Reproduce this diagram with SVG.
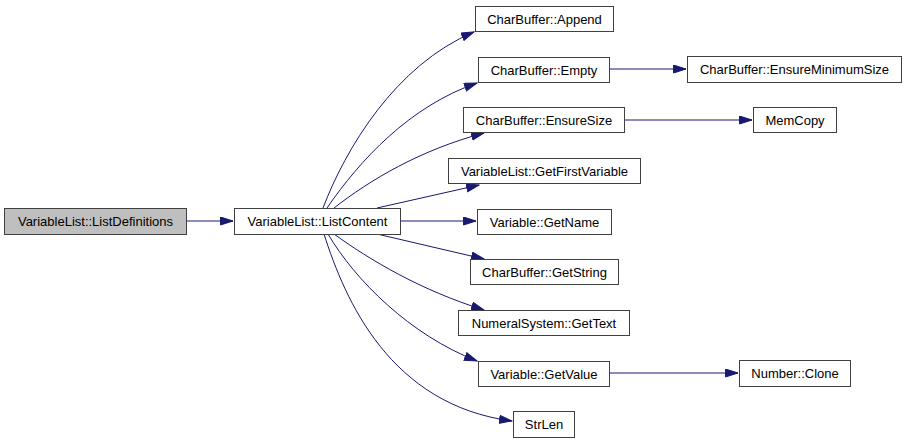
<svg xmlns="http://www.w3.org/2000/svg" width="907" height="443" viewBox="0 0 907 443">
<style>
.n rect{fill:#fff;stroke:#404040;stroke-width:1}
.n text{font-family:"Liberation Sans",Arial,sans-serif;font-size:13px;fill:#000;text-anchor:middle}
.e path{fill:none;stroke:#191970;stroke-width:1;marker-end:url(#a)}
</style>
<defs>
<marker id="a" markerUnits="userSpaceOnUse" markerWidth="14" markerHeight="10" refX="13" refY="4.5" orient="auto">
<path d="M0.5,0.5 L13,4.5 L0.5,8.5 z" fill="#191970" stroke="#191970" stroke-width="1"/>
</marker>
</defs>
<rect width="907" height="443" fill="#fff"/>
<g id="edges" class="e">
<path d="M186,221 L233,221"/>
<path d="M323,208 C345,150 395,65 474,32"/>
<path d="M327,208 C360,160 410,106 477,83"/>
<path d="M334,208 C370,180 420,150 484,133"/>
<path d="M377,208 L479,185"/>
<path d="M400,221 L476,221"/>
<path d="M377,234 L484,259"/>
<path d="M334,234 C370,260 420,290 484,310"/>
<path d="M328,234 C355,280 410,335 477,361"/>
<path d="M324,234 C345,300 390,405 512,421"/>
<path d="M609,69 L686,69"/>
<path d="M624,120 L752,120"/>
<path d="M609,373 L738,373"/>
</g>
<g id="n_listdefinitions" class="n"><rect x="4.5" y="208.5" width="182" height="26" style="fill:#bfbfbf"/><text x="95.5" y="226">VariableList::ListDefinitions</text></g>
<g id="n_listcontent" class="n"><rect x="234.5" y="208.5" width="166" height="26"/><text x="317.5" y="226">VariableList::ListContent</text></g>
<g id="n_append" class="n"><rect x="475.5" y="6.5" width="138" height="25"/><text x="544.5" y="23.5">CharBuffer::Append</text></g>
<g id="n_empty" class="n"><rect x="478.5" y="57.5" width="131" height="25"/><text x="544" y="74.5">CharBuffer::Empty</text></g>
<g id="n_ensuresize" class="n"><rect x="463.5" y="107.5" width="161" height="25"/><text x="544" y="124.5">CharBuffer::EnsureSize</text></g>
<g id="n_getfirstvariable" class="n"><rect x="448.5" y="158.5" width="192" height="25"/><text x="544.5" y="175.5">VariableList::GetFirstVariable</text></g>
<g id="n_getname" class="n"><rect x="477.5" y="209.5" width="134" height="25"/><text x="544.5" y="226.5">Variable::GetName</text></g>
<g id="n_getstring" class="n"><rect x="470.5" y="259.5" width="148" height="25"/><text x="544.5" y="276.5">CharBuffer::GetString</text></g>
<g id="n_gettext" class="n"><rect x="458.5" y="310.5" width="171" height="25"/><text x="544" y="327.5">NumeralSystem::GetText</text></g>
<g id="n_getvalue" class="n"><rect x="478.5" y="361.5" width="131" height="25"/><text x="544" y="378.5">Variable::GetValue</text></g>
<g id="n_strlen" class="n"><rect x="513.5" y="411.5" width="61" height="26"/><text x="544" y="429">StrLen</text></g>
<g id="n_ensureminimumsize" class="n"><rect x="687.5" y="56.5" width="214" height="26"/><text x="794.5" y="74">CharBuffer::EnsureMinimumSize</text></g>
<g id="n_memcopy" class="n"><rect x="753.5" y="107.5" width="83" height="25"/><text x="795" y="124.5">MemCopy</text></g>
<g id="n_clone" class="n"><rect x="739.5" y="360.5" width="111" height="26"/><text x="795" y="378">Number::Clone</text></g>
</svg>
